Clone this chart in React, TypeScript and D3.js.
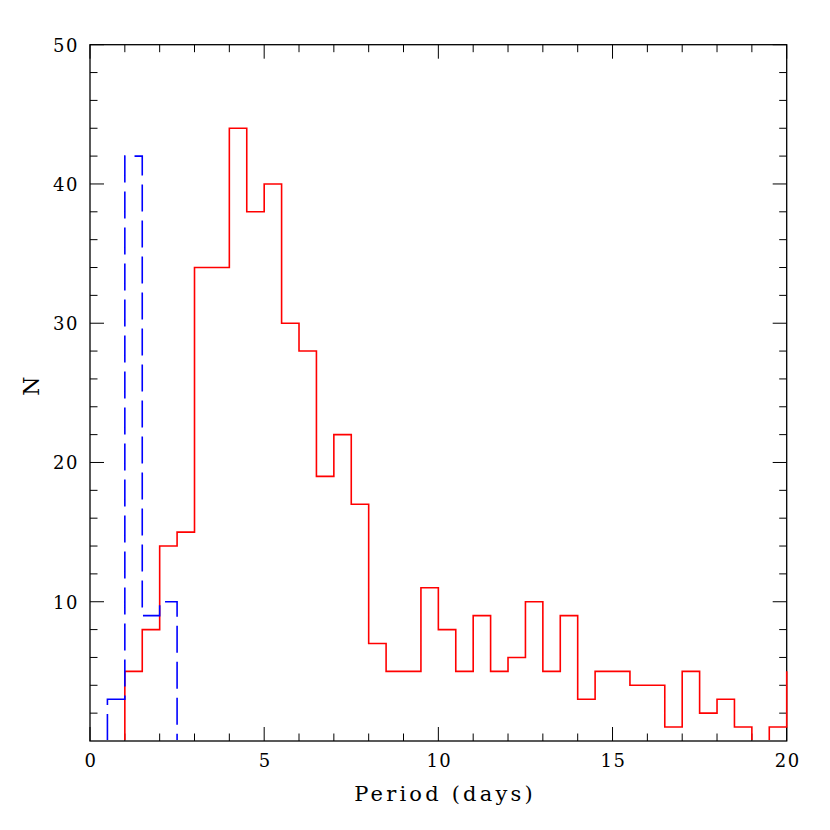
import React from "react";
import * as d3 from "d3";

const redStart = 1.0;
const binWidth = 0.5;
const redCounts = [5, 8, 14, 15, 34, 34, 44, 38, 40, 30, 28, 19, 22, 17, 7, 5, 5, 11, 8, 5, 9, 5, 6, 10, 5, 9, 3, 5, 5, 4, 4, 1, 5, 2, 3, 1, 0, 1];
const redNextBin = 5; // bin starting at 20, clipped by the frame
const blueStart = 0.5;
const blueCounts = [3, 42, 9, 10];

const xTicksMajor = [0, 5, 10, 15, 20];
const yTicksMajor = [10, 20, 30, 40, 50];

const W = 830;
const H = 830;
const left = 90;
const right = 786.7;
const top = 44.7;
const bottom = 741;

function stepPoints(start: number, counts: number[]): [number, number][] {
  const pts: [number, number][] = [[start, 0]];
  counts.forEach((c, i) => {
    const x0 = start + i * binWidth;
    pts.push([x0, c]);
    pts.push([x0 + binWidth, c]);
  });
  return pts;
}

export default function App() {
  const x = d3.scaleLinear().domain([0, 20]).range([left, right]);
  const y = d3.scaleLinear().domain([0, 50]).range([bottom, top]);
  const line = d3
    .line<[number, number]>()
    .x((d) => x(d[0]))
    .y((d) => y(d[1]));

  const redPts = stepPoints(redStart, redCounts);
  redPts.push([20, redNextBin]);
  const bluePts = stepPoints(blueStart, blueCounts);
  bluePts.push([blueStart + blueCounts.length * binWidth, 0]);

  const xMinor = d3.range(0, 21, 1).filter((v) => v % 5 !== 0);
  const yMinor = d3.range(0, 51, 2).filter((v) => v % 10 !== 0);
  const majLen = 14;
  const minLen = 7.5;
  const font = "'DejaVu Serif', serif";
  const tickColor = "#000";

  return (
    <svg width={W} height={H} style={{ position: "absolute", left: 0, top: 0, background: "#fff" }}>
      <rect x={0} y={0} width={W} height={H} fill="#fff" />
      <defs>
        <clipPath id="plotclip">
          <rect x={left - 2} y={top - 2} width={right - left + 4} height={bottom - top + 1} />
        </clipPath>
      </defs>
      {/* ticks */}
      <g stroke={tickColor} strokeWidth={1}>
        {xTicksMajor.map((v) => (
          <g key={"xm" + v}>
            <line x1={x(v)} x2={x(v)} y1={bottom} y2={bottom - majLen} />
            <line x1={x(v)} x2={x(v)} y1={top} y2={top + majLen} />
          </g>
        ))}
        {xMinor.map((v) => (
          <g key={"xn" + v}>
            <line x1={x(v)} x2={x(v)} y1={bottom} y2={bottom - minLen} />
            <line x1={x(v)} x2={x(v)} y1={top} y2={top + minLen} />
          </g>
        ))}
        {yTicksMajor.map((v) => (
          <g key={"ym" + v}>
            <line x1={left} x2={left + majLen} y1={y(v)} y2={y(v)} />
            <line x1={right} x2={right - majLen} y1={y(v)} y2={y(v)} />
          </g>
        ))}
        {yMinor.map((v) => (
          <g key={"yn" + v}>
            <line x1={left} x2={left + minLen} y1={y(v)} y2={y(v)} />
            <line x1={right} x2={right - minLen} y1={y(v)} y2={y(v)} />
          </g>
        ))}
      </g>
      <rect x={left} y={top} width={right - left} height={bottom - top} fill="none" stroke="#000" strokeWidth={1.3} />
      <g clipPath="url(#plotclip)">
        <path d={line(redPts) || ""} fill="none" stroke="#ff0000" strokeWidth={1.6} />
        <path d={line(bluePts) || ""} fill="none" stroke="#0000ff" strokeWidth={1.6} strokeDasharray="27 9" />
      </g>
      {/* tick labels */}
      <g fontFamily={font} fontSize={18} fill="#000" letterSpacing={1.5}>
        {xTicksMajor.map((v) => (
          <text key={"xl" + v} x={x(v) + 1} y={767} textAnchor="middle">
            {v}
          </text>
        ))}
        {yTicksMajor.map((v) => (
          <text key={"yl" + v} x={79} y={y(v) + 7} textAnchor="end">
            {v}
          </text>
        ))}
      </g>
      <text x={445} y={801} textAnchor="middle" fontFamily={font} fontSize={21} letterSpacing={3.2} fill="#000">
        Period (days)
      </text>
      <text
        transform={`translate(39,386) rotate(-90)`}
        textAnchor="middle"
        fontFamily={font}
        fontSize={22}
        fill="#000"
      >
        N
      </text>
    </svg>
  );
}
